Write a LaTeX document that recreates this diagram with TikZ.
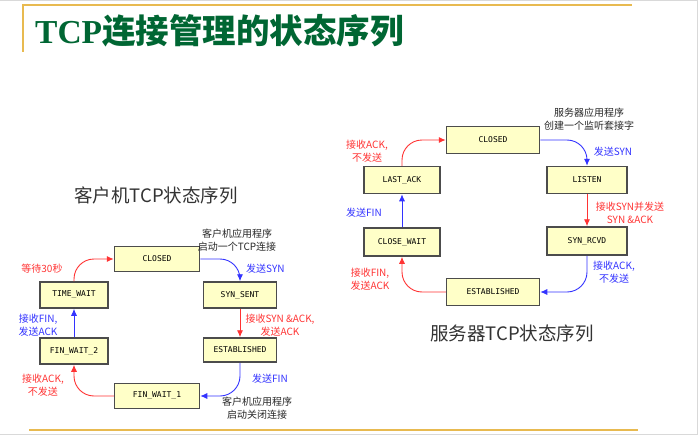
\documentclass[tikz,border=0pt]{standalone}
\usepackage{fontspec}
\setmainfont{Liberation Serif}
\newfontfamily\cjk{Noto Sans CJK SC}
\newfontfamily\boxfont{DejaVu Sans Mono}
\usetikzlibrary{arrows.meta}

\definecolor{titlegreen}{RGB}{0,102,51}
\definecolor{framegold}{RGB}{232,186,80}
\definecolor{boxfill}{RGB}{255,255,200}
\definecolor{sendred}{RGB}{255,51,51}
\definecolor{sendblue}{RGB}{51,51,255}

\begin{document}
\begin{tikzpicture}
[
x=1pt, y=-1pt,
statebox/.style={
% The shape:
rectangle,
% The size:
minimum height=26pt,
inner sep=0pt,
% The border:
line width=1.5pt,
draw=black!70,
% The filling:
fill=boxfill,
% The text:
font=\boxfont\fontsize{8}{10}\selectfont,
},
redline/.style={
draw=sendred, line width=0.9pt, rounded corners=20pt,
-{Latex[length=7pt,width=6pt]},
},
blueline/.style={
draw=sendblue, line width=0.9pt, rounded corners=20pt,
-{Latex[length=7pt,width=6pt]},
},
redtext/.style={text=sendred, align=center, inner sep=0pt, font=\cjk\fontsize{10}{12.5}\selectfont},
bluetext/.style={text=sendblue, align=center, inner sep=0pt, font=\cjk\fontsize{10}{12.5}\selectfont},
blacktext/.style={text=black!85, align=center, inner sep=0pt, font=\cjk\fontsize{10}{12.5}\selectfont},
headtext/.style={text=black!80, inner sep=0pt, font=\cjk\fontsize{18.5}{20}\selectfont},
]
    \useasboundingbox (0,0) rectangle (699,436);
    % frame of the slide
    \draw[black!15, line width=1pt] (0,0.5) -- (697,0.5) -- (697,434) -- (0,434);
    \draw[framegold, line width=1.8pt] (23,52) -- (23,5) -- (632,5);
    \draw[framegold, line width=1.8pt] (29,430) -- (638,430);
    \node[anchor=west, inner sep=0pt, text=titlegreen] (title) at (35,31)
        {\fontsize{33.5}{34}\selectfont\bfseries TCP{\cjk 连接管理的状态序列}};

    % client side
    \node[headtext] (chead) at (156,195) {客户机TCP状态序列};
    \node[statebox, minimum width=85pt, minimum height=25pt] (cclosed) at (157,259) {CLOSED};
    \node[statebox, minimum width=68pt] (ctimewait) at (74,295) {TIME\_WAIT};
    \node[statebox, minimum width=73pt] (csynsent) at (240,295) {SYN\_SENT};
    \node[statebox, minimum width=68pt] (cfinwait2) at (74,351) {FIN\_WAIT\_2};
    \node[statebox, minimum width=73pt, minimum height=24pt] (cestab) at (240,350) {ESTABLISHED};
    \node[statebox, minimum width=85pt, minimum height=25pt] (cfinwait1) at (157,396) {FIN\_WAIT\_1};
    \draw[redline] (ctimewait.north) |- (cclosed.west);
    \draw[blueline] (cclosed.east) -| (csynsent.north);
    \draw[redline] (csynsent.south) -- (cestab.north);
    \draw[blueline] (cestab.south) |- (cfinwait1.east);
    \draw[redline] (cfinwait1.west) -| (cfinwait2.south);
    \draw[blueline] (cfinwait2.north) -- (ctimewait.south);
    \node[redtext] (cwait) at (42,269) {等待30秒};
    \node[blacktext] (cstart) at (237,240) {客户机应用程序\\启动一个TCP连接};
    \node[bluetext, anchor=west] (csendsyn) at (246,269) {发送SYN};
    \node[redtext] (crecvsyn) at (280,325) {接收SYN \&ACK,\\发送ACK};
    \node[bluetext, align=right] (crecvfin) at (38,325) {接收FIN,\\发送ACK};
    \node[redtext] (crecvack) at (43,385) {接收ACK,\\不发送};
    \node[bluetext] (csendfin) at (270,379) {发送FIN};
    \node[blacktext] (cstop) at (257,408) {客户机应用程序\\启动关闭连接};

    % server side
    \node[headtext] (shead) at (512,333) {服务器TCP状态序列};
    \node[statebox, minimum width=93pt, minimum height=27pt] (sclosed) at (493,140) {CLOSED};
    \node[statebox, minimum width=76pt, minimum height=27pt] (slastack) at (402,180) {LAST\_ACK};
    \node[statebox, minimum width=80pt, minimum height=27pt] (slisten) at (587,180) {LISTEN};
    \node[statebox, minimum width=76pt, minimum height=28pt] (sclosewait) at (402,242) {CLOSE\_WAIT};
    \node[statebox, minimum width=80pt, minimum height=28pt] (ssynrcvd) at (587,241) {SYN\_RCVD};
    \node[statebox, minimum width=93pt, minimum height=27pt] (sestab) at (493,292) {ESTABLISHED};
    \draw[redline] (slastack.north) |- (sclosed.west);
    \draw[blueline] (sclosed.east) -| (slisten.north);
    \draw[redline] (slisten.south) -- (ssynrcvd.north);
    \draw[blueline] (ssynrcvd.south) |- (sestab.east);
    \draw[redline] (sestab.west) -| (sclosewait.south);
    \draw[blueline] (sclosewait.north) -- (slastack.south);
    \node[blacktext] (sstart) at (589,119) {服务器应用程序\\创建一个监听套接字};
    \node[redtext] (srecvack) at (367,151) {接收ACK,\\不发送};
    \node[bluetext] (ssendsyn) at (613,152) {发送SYN};
    \node[redtext] (srecvsyn) at (630,213) {接收SYN并发送\\SYN \&ACK};
    \node[bluetext] (ssendfin) at (364,213) {发送FIN};
    \node[bluetext] (sgetack) at (614,272) {接收ACK,\\不发送};
    \node[redtext] (srecvfin) at (370,279) {接收FIN,\\发送ACK};
\end{tikzpicture}
\end{document}
